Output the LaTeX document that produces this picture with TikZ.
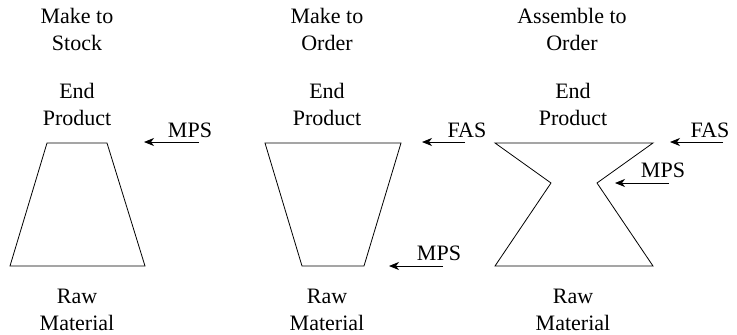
\documentclass[tikz,border=0pt]{standalone}
\usepackage{fontspec}
\setmainfont{Liberation Serif}
\newfontfamily\labelfont{Liberation Serif}
\usetikzlibrary{arrows.meta}
\begin{document}
\begin{tikzpicture}[x=1pt,y=-1pt,
  lbl/.style={align=center,font=\labelfont\fontsize{22}{27}\selectfont,inner sep=0pt},
  tag/.style={font=\labelfont\fontsize{22}{25}\selectfont,inner sep=0pt,anchor=base},
  outline/.style={draw,line width=0.8pt,line join=miter},
  ptr/.style={line width=0.9pt,-{Stealth[length=10pt,width=8pt,inset=3pt]}}]
\useasboundingbox (0,0) rectangle (737,335);

% column headings
\node[lbl] (h1) at (77,29) {Make to\\Stock};
\node[lbl] (h2) at (327,29) {Make to\\Order};
\node[lbl] (h3) at (572,29) {Assemble to\\Order};

% top and bottom labels
\node[lbl] (e1) at (77,104) {End\\Product};
\node[lbl] (e2) at (327,104) {End\\Product};
\node[lbl] (e3) at (573,104) {End\\Product};
\node[lbl] (r1) at (77,310) {Raw\\Material};
\node[lbl] (r2) at (327,310) {Raw\\Material};
\node[lbl] (r3) at (573,310) {Raw\\Material};

% make to stock: narrow top, wide base
\draw[outline] (47,143) -- (107,143) -- (145,266) -- (10,266) -- cycle;
% make to order: wide top, narrow base
\draw[outline] (265,143) -- (401,143) -- (364,266) -- (302,266) -- cycle;
% assemble to order: hourglass
\draw[outline] (495,143) -- (653,143) -- (597,183) -- (653,266) -- (495,266) -- (551,183) -- cycle;

% schedule tags
\node[tag] (m1) at (190,137) {MPS};
\node[tag] (f2) at (467,137) {FAS};
\node[tag] (m2) at (439,260) {MPS};
\node[tag] (f3) at (710,137) {FAS};
\node[tag] (m3) at (663,177) {MPS};

% pointer arrows
\coordinate (a1s) at (199,142); \coordinate (a1e) at (144,142);
\coordinate (a2s) at (465,142); \coordinate (a2e) at (422,142);
\coordinate (a3s) at (443,266); \coordinate (a3e) at (389,266);
\coordinate (a4s) at (723,142); \coordinate (a4e) at (670,142);
\coordinate (a5s) at (669,183); \coordinate (a5e) at (615,183);
\draw[ptr] (a1s) -- (a1e);
\draw[ptr] (a2s) -- (a2e);
\draw[ptr] (a3s) -- (a3e);
\draw[ptr] (a4s) -- (a4e);
\draw[ptr] (a5s) -- (a5e);
\end{tikzpicture}
\end{document}
